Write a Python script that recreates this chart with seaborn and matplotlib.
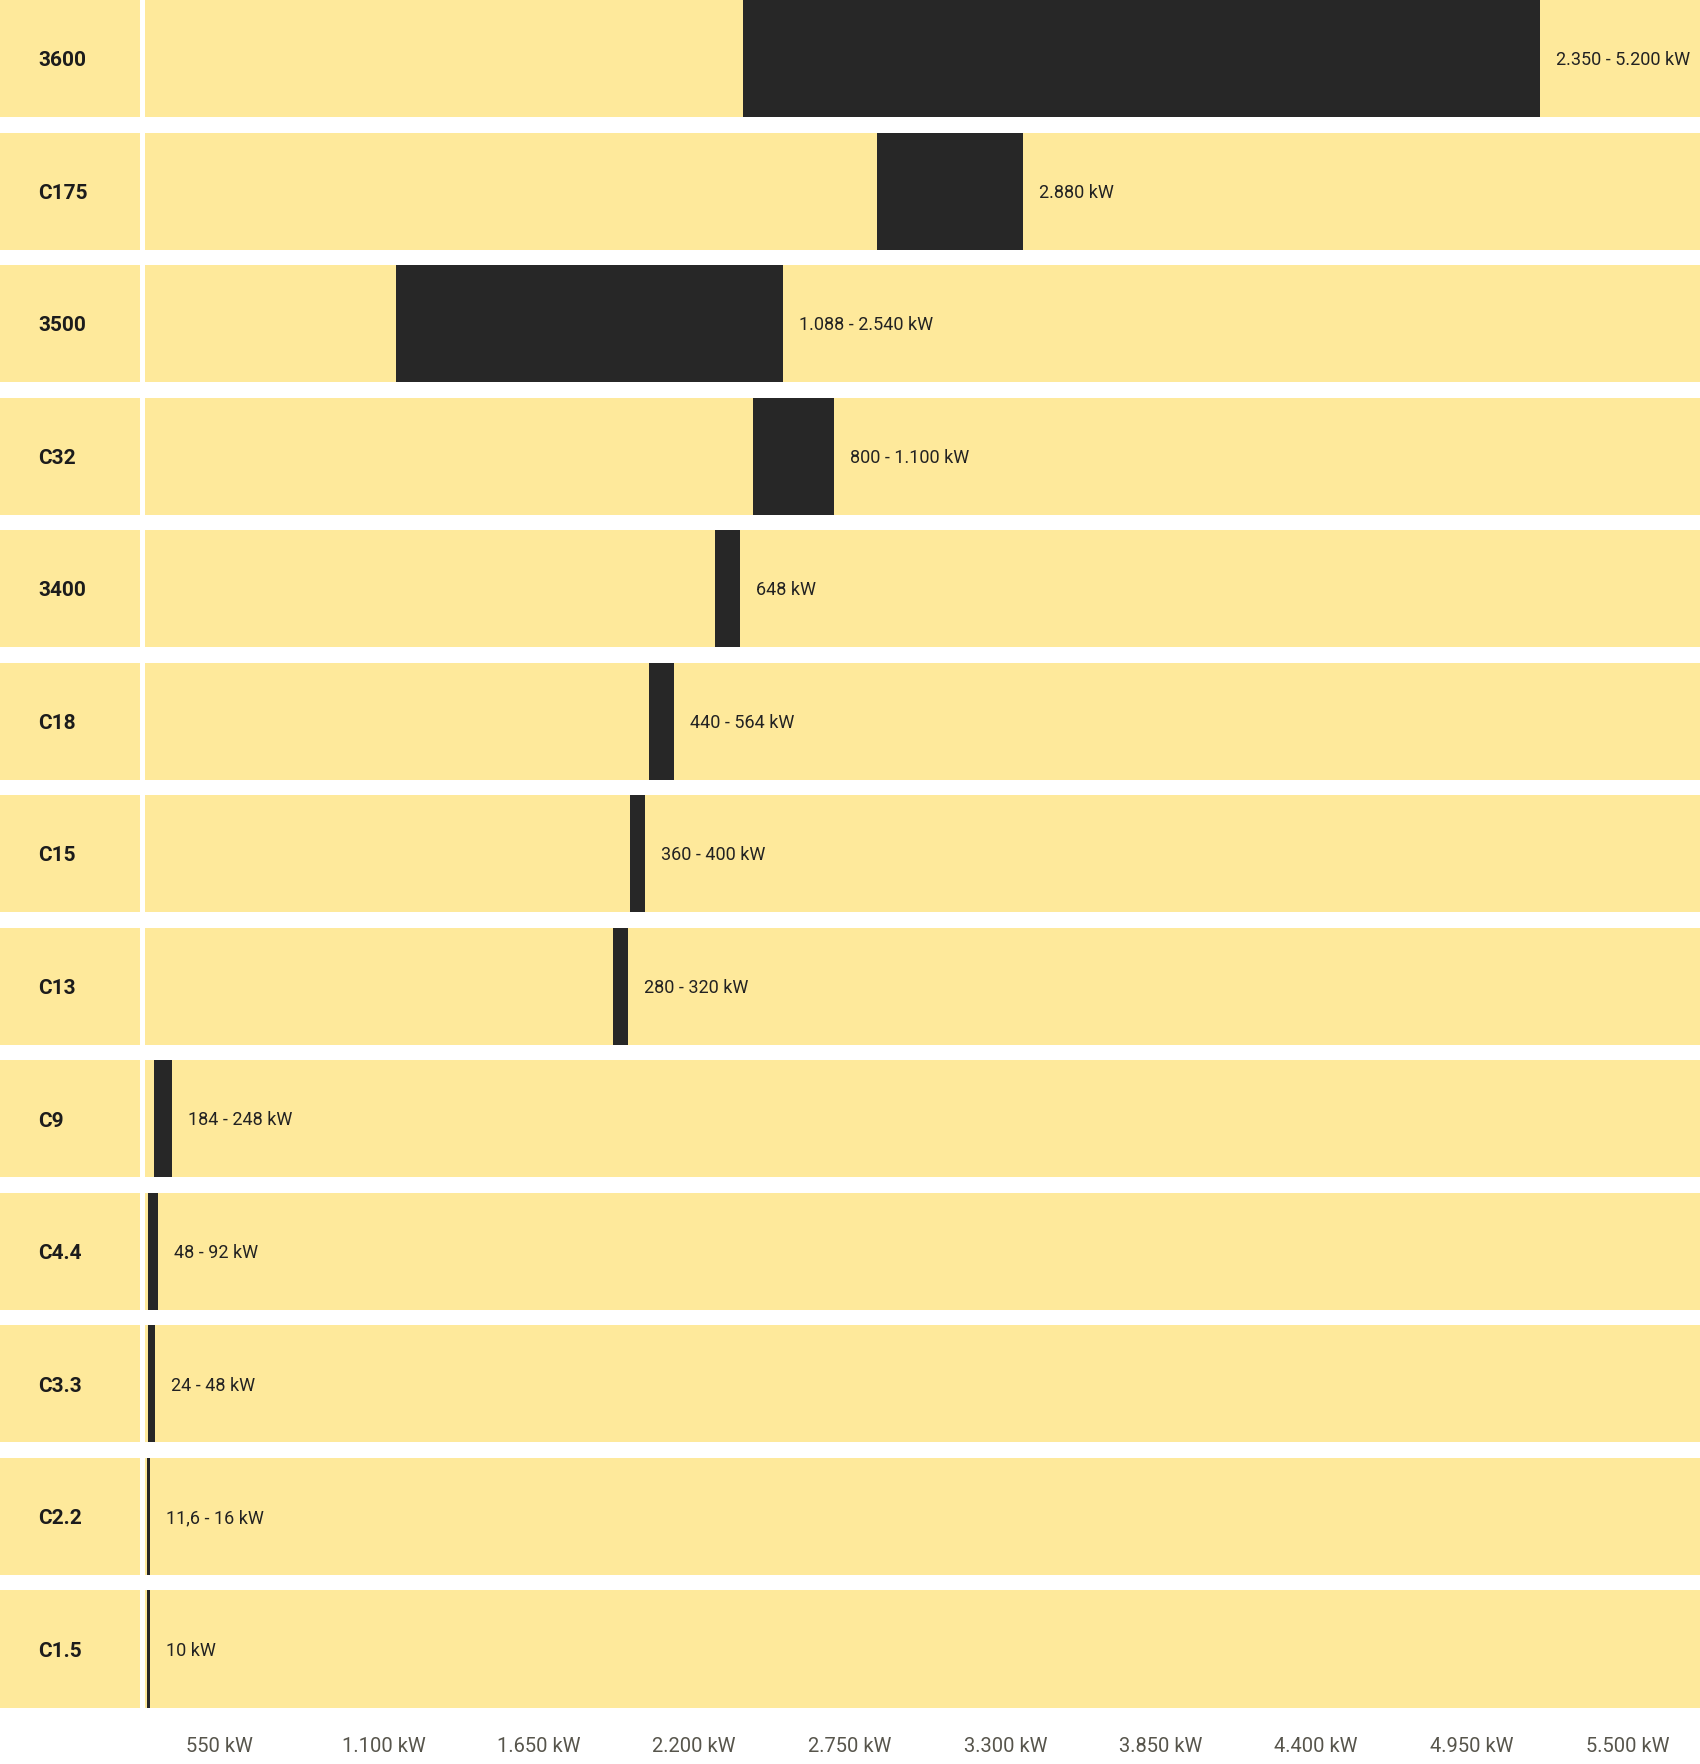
import matplotlib
matplotlib.use("Agg")
import matplotlib.pyplot as plt
import matplotlib.transforms as mtransforms
import seaborn as sns
import pandas as pd

# ---------------- data ----------------
models = ["3600", "C175", "3500", "C32", "3400", "C18", "C15", "C13",
          "C9", "C4.4", "C3.3", "C2.2", "C1.5"]
range_start = [2115, 2588, 888, 2152, 2016, 1783, 1715, 1655, 33, 11, 11, 6, 6]
range_end = [4934, 3106, 2258, 2438, 2104, 1871, 1767, 1708, 94, 45, 36, 19, 19]
value_labels = ["2.350 - 5.200 kW", "2.880 kW", "1.088 - 2.540 kW", "800 - 1.100 kW",
                "648 kW", "440 - 564 kW", "360 - 400 kW", "280 - 320 kW",
                "184 - 248 kW", "48 - 92 kW", "24 - 48 kW", "11,6 - 16 kW", "10 kW"]
tick_values = [550, 1100, 1650, 2200, 2750, 3300, 3850, 4400, 4950, 5500]
tick_labels = ["550 kW", "1.100 kW", "1.650 kW", "2.200 kW", "2.750 kW",
               "3.300 kW", "3.850 kW", "4.400 kW", "4.950 kW", "5.500 kW"]
x_min, x_max = 0, 5500

# ---------------- style ----------------
sns.set_theme(style="white")
plt.rcParams["font.family"] = ["Roboto", "DejaVu Sans"]

YELLOW = "#FEE99B"
DARK = "#272727"
BAR_H = 0.883

df = pd.DataFrame({"model": models, "start": range_start, "end": range_end,
                   "full": [x_max] * len(models), "one": [1] * len(models)})

W, H = 1700, 1764
fig = plt.figure(figsize=(W / 100, H / 100), dpi=100)
bottom = (H - 1707.5) / H
height = 1707.5 / H

ax_lab = fig.add_axes([0, bottom, 140 / W, height])
ax = fig.add_axes([145 / W, bottom, 1555 / W, height])

# left label cells
sns.barplot(data=df, x="one", y="model", orient="h", color=YELLOW, saturation=1,
            width=BAR_H, linewidth=0, ax=ax_lab)
ax_lab.set_xlim(0, 1)
for i, m in enumerate(models):
    ax_lab.annotate(m, xy=(38 / 140, i), xytext=(0, -1.6), textcoords="offset points",
                    ha="left", va="center", fontsize=15, fontweight="bold",
                    color="#1c1c1c")

# main bands
sns.barplot(data=df, x="full", y="model", orient="h", color=YELLOW, saturation=1,
            width=BAR_H, linewidth=0, ax=ax)
sns.barplot(data=df, x="end", y="model", orient="h", color=DARK, saturation=1,
            width=BAR_H, linewidth=0, ax=ax)
sns.barplot(data=df, x="start", y="model", orient="h", color=YELLOW, saturation=1,
            width=BAR_H, linewidth=0, ax=ax)
ax.set_xlim(x_min, x_max)

for i, (e, lab) in enumerate(zip(range_end, value_labels)):
    ax.annotate(lab, xy=(e, i), xytext=(11.5, -1.2), textcoords="offset points",
                ha="left", va="center", fontsize=13, color="#222222")

for a in (ax, ax_lab):
    a.set_ylim(len(models) - 1 + BAR_H / 2, -BAR_H / 2)
    a.set_ylabel("")
    a.set_xlabel("")
    a.set_yticks([])
    for s in a.spines.values():
        s.set_visible(False)
    a.set_facecolor("white")

ax_lab.set_xticks([])
ax.set_xticks(tick_values)
ax.set_xticklabels(tick_labels, fontsize=14.5, color="#57554c")
ax.tick_params(axis="x", length=0, pad=21)
shift = mtransforms.ScaledTranslation(-114.5 / 100, 0, fig.dpi_scale_trans)
for t in ax.get_xticklabels():
    t.set_horizontalalignment("left")
    t.set_transform(t.get_transform() + shift)

fig.savefig("out.png", dpi=100, facecolor="white")
